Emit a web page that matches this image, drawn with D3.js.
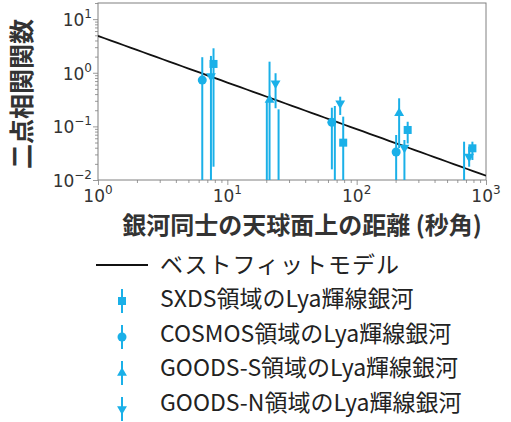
<!DOCTYPE html>
<html>
<head>
<meta charset="utf-8">
<script src="https://cdn.jsdelivr.net/npm/d3@7"></script>
<style>
  html, body { margin: 0; padding: 0; background: #fff; }
  svg { display: block; }
</style>
</head>
<body>
<svg id="chart" width="511" height="422"></svg>
<script>
// Angular two-point correlation function of Lyα emitters in four fields.
const seriesNames = [
  "SXDS領域のLya輝線銀河",
  "COSMOS領域のLya輝線銀河",
  "GOODS-S領域のLya輝線銀河",
  "GOODS-N領域のLya輝線銀河"
];
const seriesSymbols = ["square", "circle", "triangleUp", "triangleDown"];

// Separations (arcsec), correlation values and error-bar bounds.
// null value = point below the plotted range (only the upper bar is visible).
const sxdsSep  = [7.82, 24.9, 78.7, 248, 785];
const sxdsXi   = [1.46, null, 0.0497, 0.0857, 0.039];
const sxdsHi   = [2.86, 0.208, 0.152, 0.122, 0.0518];
const sxdsLo   = [0.0177, 0.001, 0.001, 0.048, 0.0236];

const cosmosSep = [6.4, 20.2, 64.3, 202, 677];
const cosmosXi  = [0.73, null, 0.119, 0.0333, null];
const cosmosHi  = [1.95, 0.289, 0.223, 0.069, 0.0518];
const cosmosLo  = [0.001, 0.001, 0.0158, 0.001, 0.001];

const goodsSSep = [21.2, 67.8, 213];
const goodsSXi  = [0.311, null, 0.176];
const goodsSHi  = [1.61, 0.240, 0.334];
const goodsSLo  = [0.001, 0.001, 0.0395];

const goodsNSep = [7.47, 23.6, 74.6, 234, 741];
const goodsNXi  = [0.87, 0.637, 0.27, 0.040, 0.0272];
const goodsNHi  = [2.06, 0.98, 0.358, 0.0557, 0.0418];
const goodsNLo  = [0.001, 0.218, 0.163, 0.001, 0.0177];

// Best-fit power law: w(θ) = A θ^(-β)
const fitAmplitude = 4.86;
const fitIndex = 0.869;
const fitLabel = "ベストフィットモデル";

const xDomain = [1, 1000];
const yDomain = [0.01, 20];
const xTickExps = [0, 1, 2, 3];
const yTickExps = [-2, -1, 0, 1];

const xLabel = "銀河同士の天球面上の距離 (秒角)";
const yLabel = "二点相関関数";

const color = "#1ab0e8";

const svg = d3.select("#chart");
const plot = { left: 98, right: 486, top: 3, bottom: 180 };

const x = d3.scaleLog().domain(xDomain).range([plot.left, plot.right]);
const y = d3.scaleLog().domain(yDomain).range([plot.bottom, plot.top]);

svg.append("defs").append("clipPath").attr("id", "clip")
  .append("rect")
  .attr("x", plot.left).attr("y", plot.top)
  .attr("width", plot.right - plot.left).attr("height", plot.bottom - plot.top);

function supLabel(sel, exp) {
  sel.text(null);
  sel.append("tspan").text("10");
  sel.append("tspan").attr("font-size", 12).attr("dy", -8)
    .text(exp < 0 ? "\u2212" + Math.abs(exp) : String(exp));
}

// axes
const axisColor = "#808080";
const xAxis = d3.axisBottom(x).tickValues(d3.range(1, 10).flatMap(m => [m, m * 10, m * 100]).concat([1000]))
  .tickSize(3).tickFormat("");
const yAxis = d3.axisLeft(y).tickValues(d3.range(1, 10).flatMap(m => [m * 0.01, m * 0.1, m, m * 10]).filter(v => v <= 20))
  .tickSize(3).tickFormat("");

const gx = svg.append("g").attr("transform", `translate(0,${plot.bottom})`).call(xAxis);
const gy = svg.append("g").attr("transform", `translate(${plot.left},0)`).call(yAxis);
[gx, gy].forEach(g => {
  g.select(".domain").remove();
  g.selectAll(".tick line").attr("stroke", axisColor).attr("stroke-width", 0.8);
});
gx.selectAll(".tick line").filter(d => xTickExps.some(e => Math.abs(Math.log10(d) - e) < 1e-9)).attr("y2", 5);
gy.selectAll(".tick line").filter(d => yTickExps.some(e => Math.abs(Math.log10(d) - e) < 1e-9)).attr("x2", -5);

svg.append("rect")
  .attr("x", plot.left).attr("y", plot.top)
  .attr("width", plot.right - plot.left).attr("height", plot.bottom - plot.top)
  .attr("fill", "none").attr("stroke", axisColor).attr("stroke-width", 1);

const tickFont = "DejaVu Sans, sans-serif";
svg.append("g").selectAll("text").data(xTickExps).join("text")
  .attr("x", d => x(Math.pow(10, d)))
  .attr("y", plot.bottom + 22)
  .attr("text-anchor", "middle")
  .attr("font-family", tickFont).attr("font-size", 17).attr("fill", "#333")
  .each(function (d) { supLabel(d3.select(this), d); });

svg.append("g").selectAll("text").data(yTickExps).join("text")
  .attr("x", plot.left - 6)
  .attr("y", d => y(Math.pow(10, d)) + 7)
  .attr("text-anchor", "end")
  .attr("font-family", tickFont).attr("font-size", 17).attr("fill", "#333")
  .each(function (d) { supLabel(d3.select(this), d); });

// axis titles
svg.append("text")
  .attr("x", 302).attr("y", 234)
  .attr("text-anchor", "middle")
  .attr("font-family", "Noto Sans CJK JP, sans-serif")
  .attr("font-weight", "bold").attr("font-size", 24).attr("fill", "#333")
  .text(xLabel);

svg.append("text")
  .attr("transform", `translate(31,94) rotate(-90)`)
  .attr("text-anchor", "middle")
  .attr("font-family", "Noto Sans CJK JP, sans-serif")
  .attr("font-weight", "bold").attr("font-size", 25).attr("fill", "#333")
  .text(yLabel);

const plotArea = svg.append("g").attr("clip-path", "url(#clip)");

// best-fit line
const fitPts = d3.range(0, 3.001, 0.05).map(e => Math.pow(10, e));
plotArea.append("path")
  .datum(fitPts)
  .attr("fill", "none").attr("stroke", "#111").attr("stroke-width", 1.8)
  .attr("d", d3.line().x(d => x(d)).y(d => y(fitAmplitude * Math.pow(d, -fitIndex))));

// markers
function drawMarker(g, kind, cx, cy) {
  if (kind === "square") {
    g.append("rect").attr("x", cx - 4).attr("y", cy - 4).attr("width", 8).attr("height", 8).attr("fill", color);
  } else if (kind === "circle") {
    g.append("circle").attr("cx", cx).attr("cy", cy).attr("r", 4.5).attr("fill", color);
  } else {
    const sym = d3.symbol().type(d3.symbolTriangle).size(42)();
    g.append("path").attr("d", sym)
      .attr("transform", `translate(${cx},${cy}) rotate(${kind === "triangleDown" ? 180 : 0})`)
      .attr("fill", color);
  }
}

const allSeries = [
  { sep: sxdsSep, xi: sxdsXi, hi: sxdsHi, lo: sxdsLo },
  { sep: cosmosSep, xi: cosmosXi, hi: cosmosHi, lo: cosmosLo },
  { sep: goodsSSep, xi: goodsSXi, hi: goodsSHi, lo: goodsSLo },
  { sep: goodsNSep, xi: goodsNXi, hi: goodsNHi, lo: goodsNLo }
];

allSeries.forEach((s, i) => {
  const g = plotArea.append("g");
  s.sep.forEach((sep, j) => {
    const cx = x(sep);
    g.append("line")
      .attr("x1", cx).attr("x2", cx)
      .attr("y1", y(s.hi[j])).attr("y2", y(s.lo[j]))
      .attr("stroke", color).attr("stroke-width", 2);
    if (s.xi[j] !== null) drawMarker(g, seriesSymbols[i], cx, y(s.xi[j]));
  });
});

// legend
const legendFont = "Noto Sans CJK JP, sans-serif";
const lg = svg.append("g");
lg.append("line").attr("x1", 96).attr("x2", 148).attr("y1", 265).attr("y2", 265)
  .attr("stroke", "#111").attr("stroke-width", 1.8);
lg.append("text").attr("x", 160).attr("y", 265).attr("dy", "0.35em")
  .attr("font-family", legendFont).attr("font-size", 23).attr("letter-spacing", 1)
  .attr("fill", "#222")
  .text(fitLabel);

seriesNames.forEach((name, i) => {
  const ty = 299 + i * 34.5;
  const my = ty + 2 + i * 1.5;
  lg.append("line").attr("x1", 122).attr("x2", 122).attr("y1", my - 12).attr("y2", my + 12)
    .attr("stroke", color).attr("stroke-width", 2);
  drawMarker(lg, seriesSymbols[i], 122, my);
  lg.append("text").attr("x", 160).attr("y", ty).attr("dy", "0.35em")
    .attr("font-family", legendFont).attr("font-size", 23).attr("fill", "#222")
    .text(name);
});
</script>
</body>
</html>
